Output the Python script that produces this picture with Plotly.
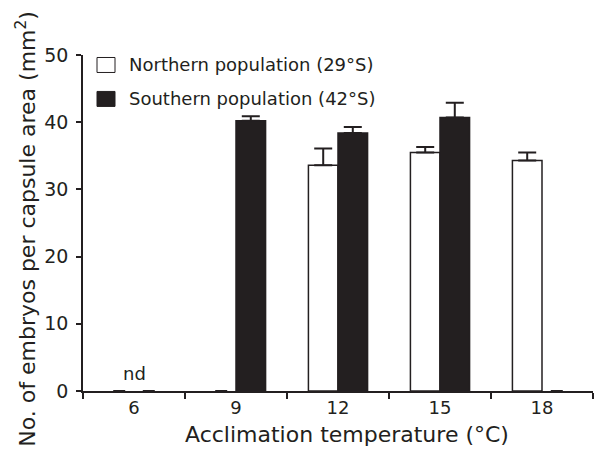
import plotly.graph_objects as go

temps = ["6", "9", "12", "15", "18"]
north_mean = [None, None, 33.6, 35.5, 34.3]
north_err = [0, 0, 2.5, 0.8, 1.2]
south_mean = [None, 40.2, 38.4, 40.7, None]
south_err = [0, 0.7, 0.9, 2.2, 0]
# not determined -> drawn as zero markers
north_nd = [0, 0, None, None, None]
south_nd = [0, None, None, None, 0]
y_ticks = [0, 10, 20, 30, 40, 50]

INK = "#231f20"
FONT = "DejaVu Sans"

fig = go.Figure()

fig.add_trace(go.Bar(
    x=temps, y=north_mean, name="Northern population (29°S)", offsetgroup="N",
    marker=dict(color="white", line=dict(color=INK, width=1.5)),
    error_y=dict(type="data", array=north_err, arrayminus=[0]*5, symmetric=False,
                 color=INK, thickness=2, width=9),
    showlegend=False))
fig.add_trace(go.Bar(
    x=temps, y=south_mean, name="Southern population (42°S)", offsetgroup="S",
    marker=dict(color=INK, line=dict(color=INK, width=1.5)),
    error_y=dict(type="data", array=south_err, arrayminus=[0]*5, symmetric=False,
                 color=INK, thickness=2, width=9),
    showlegend=False))
fig.add_trace(go.Bar(
    x=temps, y=north_nd, offsetgroup="N",
    marker=dict(color="white", line=dict(width=0)),
    error_y=dict(type="data", array=[0]*5, symmetric=False, arrayminus=[0]*5,
                 color=INK, thickness=2, width=6),
    showlegend=False))
fig.add_trace(go.Bar(
    x=temps, y=south_nd, offsetgroup="S",
    marker=dict(color=INK, line=dict(width=0)),
    error_y=dict(type="data", array=[0]*5, symmetric=False, arrayminus=[0]*5,
                 color=INK, thickness=2, width=6),
    showlegend=False))

# manual legend
legend_items = [("Northern population (29°S)", "white"), ("Southern population (42°S)", INK)]
shapes = []
annotations = []
for i, (label, fill) in enumerate(legend_items):
    yc = 65 + 34 * i
    shapes.append(dict(type="rect", xref="paper", yref="paper",
                       x0=(97 - 83) / 510, x1=(115 - 83) / 510,
                       y0=(391.5 - (yc + 7.5)) / 336.5, y1=(391.5 - (yc - 7.5)) / 336.5,
                       fillcolor=fill, line=dict(color=INK, width=1)))
    annotations.append(dict(text=label, xref="paper", yref="paper",
                            x=(127 - 83) / 510, y=(391.5 - yc) / 336.5,
                            xanchor="left", yanchor="middle", showarrow=False,
                            font=dict(size=18, color=INK, family=FONT)))

annotations.append(dict(text="nd", x=0, y=0, yshift=18, xref="x", yref="y",
                        showarrow=False, font=dict(size=18, color=INK, family=FONT)))
annotations.append(dict(text="Acclimation temperature (°C)", xref="paper", yref="paper",
                        x=(347 - 83) / 510, y=(391.5 - 435) / 336.5,
                        xanchor="center", yanchor="middle", showarrow=False,
                        font=dict(size=22, color=INK, family=FONT)))
annotations.append(dict(text="No. of embryos per capsule area (mm<sup>2</sup>)", xref="paper", yref="paper",
                        x=(26 - 83) / 510, y=(391.5 - 229) / 336.5, textangle=-90,
                        xanchor="center", yanchor="middle", showarrow=False,
                        font=dict(size=22, color=INK, family=FONT)))

fig.update_layout(
    width=595, height=451,
    margin=dict(l=83, r=2, t=55, b=59.5),
    paper_bgcolor="white", plot_bgcolor="white",
    barmode="group", bargap=0.42, bargroupgap=0,
    font=dict(family=FONT, color=INK, size=18),
    shapes=shapes, annotations=annotations,
    xaxis=dict(type="category", categoryorder="array", categoryarray=temps,
               range=[-0.5, len(temps) - 0.5],
               showline=True, linecolor=INK, linewidth=1.5, showgrid=False,
               ticks="outside", tickson="boundaries", ticklen=6, tickwidth=1.5, tickcolor=INK,
               tickfont=dict(size=18, color=INK, family=FONT), zeroline=False),
    yaxis=dict(range=[0, 50], tickvals=y_ticks, showline=True, linecolor=INK, linewidth=1.5,
               showgrid=False, zeroline=False, ticks="outside", ticklen=5, tickwidth=1.5,
               tickcolor=INK, tickfont=dict(size=19, color=INK, family=FONT),
               ticklabelstandoff=4),
)

fig.write_html("out.html")
